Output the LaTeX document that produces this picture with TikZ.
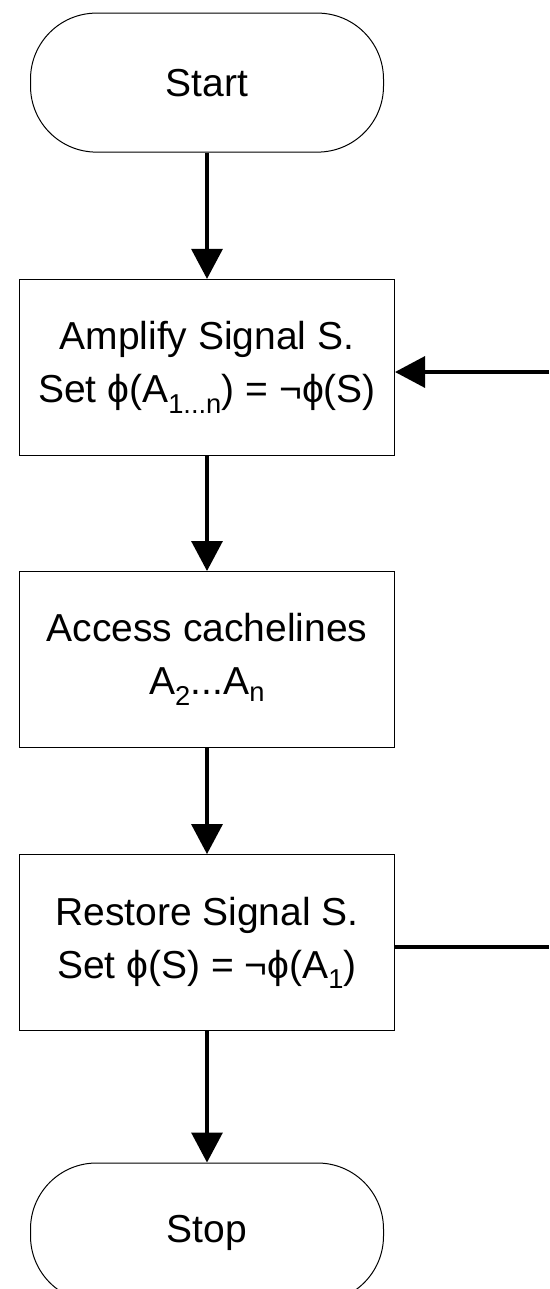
\documentclass[tikz,border=0pt]{standalone}
\usepackage{fontspec}
\setmainfont{Liberation Sans}
\usetikzlibrary{arrows.meta}
\begin{document}
\begin{tikzpicture}[x=1pt,y=-1pt,
  labelfont/.style={font=\fontsize{39}{53}\selectfont},
  terminal/.style={draw, line width=1pt, rounded corners=66pt,
    minimum width=353pt, minimum height=139pt, inner sep=0pt, labelfont},
  process/.style={draw, line width=1pt, minimum width=375pt,
    minimum height=176pt, inner sep=0pt, align=center, labelfont},
  flow/.style={line width=3.3pt, -{Triangle[length=30pt,width=31pt]}},
  loopline/.style={line width=3.3pt}]
\useasboundingbox (0,0) rectangle (549,1289);

% flow chart nodes
\node[terminal] (start) at (207,82.6) {Start};
\node[process] (amp) at (207,367.4)
  {Amplify Signal S.\\Set ϕ(A\textsubscript{1...n}) = ¬ϕ(S)};
\node[process] (access) at (207,659.5)
  {Access cachelines\\A\textsubscript{2}...A\textsubscript{n}};
\node[process] (restore) at (207,942.6)
  {Restore Signal S.\\Set ϕ(S) = ¬ϕ(A\textsubscript{1})};
\node[terminal] (stop) at (207,1232.5) {Stop};

% free ends of the loop-back connector
\coordinate (loopin) at (549,372);
\coordinate (loopout) at (549,947);

% connectors
\draw[flow] (start.south) -- (amp.north);
\draw[flow] (amp.south) -- (access.north);
\draw[flow] (access.south) -- (restore.north);
\draw[flow] (restore.south) -- (stop.north);
\draw[flow] (loopin) -- (loopin -| amp.east);
\draw[loopline] (restore.east |- loopout) -- (loopout);
\end{tikzpicture}
\end{document}
